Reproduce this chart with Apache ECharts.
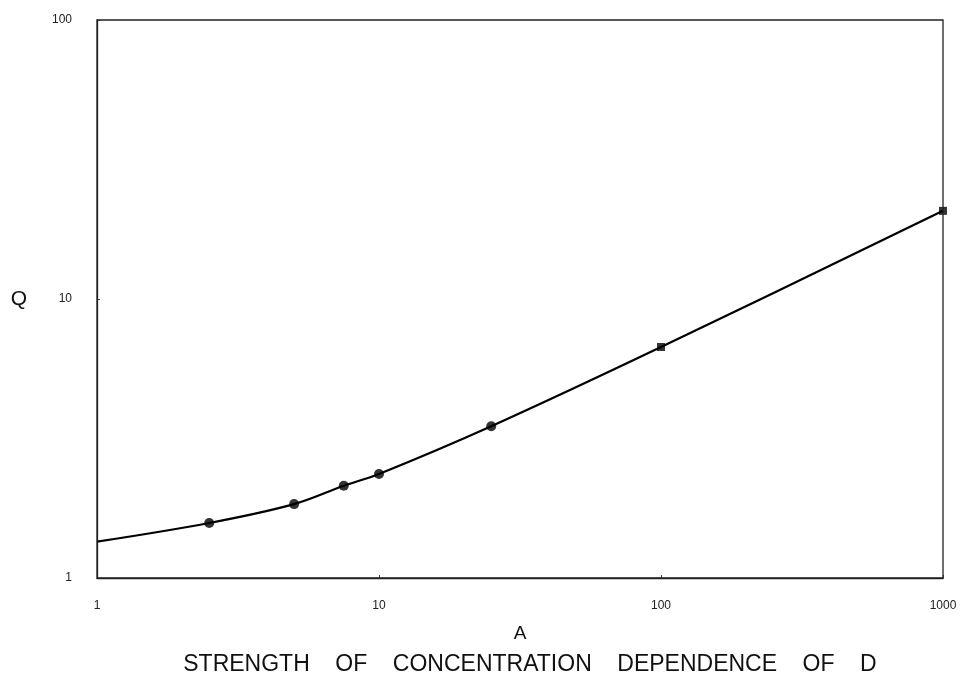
<!DOCTYPE html>
<html>
<head>
<meta charset="utf-8">
<script src="https://cdn.jsdelivr.net/npm/echarts@6/dist/echarts.min.js"></script>
<style>html,body{margin:0;padding:0;background:#fff}#c{width:962px;height:677px}</style>
</head>
<body>
<div id="c"></div>
<script>
const curveA = [1, 2.5, 5, 7.5, 10, 25, 100, 1000];
const curveQ = [1.35, 1.575, 1.84, 2.14, 2.36, 3.5, 6.73, 20.7];
const circleA = [2.5, 5, 7.5, 10, 25];
const circleQ = [1.575, 1.84, 2.14, 2.36, 3.5];
const squareA = [100, 1000];
const squareQ = [6.73, 20.7];
const xTicks = ['1', '10', '100', '1000'];
const yTicks = ['1', '10', '100'];
const xName = 'A';
const yName = 'Q';
const caption = 'STRENGTH    OF    CONCENTRATION    DEPENDENCE    OF    D';

const zip = (a, b) => a.map((v, i) => [v, b[i]]);
const font = 'Liberation Sans, Arial, sans-serif';
const chart = echarts.init(document.getElementById('c'));
chart.setOption({
  animation: false,
  backgroundColor: '#fff',
  grid: { left: 97, right: 19, top: 20, bottom: 99 },
  xAxis: {
    type: 'log', logBase: 10, min: 1, max: 1000,
    name: xName, nameLocation: 'middle', nameGap: 46,
    nameTextStyle: { fontFamily: font, fontSize: 19, color: '#111' },
    axisLine: { lineStyle: { color: '#222', width: 1.3 } },
    axisTick: { inside: true, length: 3, lineStyle: { color: '#444' } },
    minorTick: { show: false },
    splitLine: { show: false },
    axisLabel: { fontFamily: font, fontSize: 12, color: '#222', margin: 22,
      formatter: (v) => xTicks[Math.round(Math.log10(v))] }
  },
  yAxis: {
    type: 'log', logBase: 10, min: 1, max: 100,
    name: yName, nameLocation: 'middle', nameGap: 70, nameRotate: 0,
    nameTextStyle: { fontFamily: font, fontSize: 21, color: '#111' },
    axisLine: { lineStyle: { color: '#222', width: 1.3 } },
    axisTick: { inside: true, length: 3, lineStyle: { color: '#444' } },
    splitLine: { show: false },
    axisLabel: { fontFamily: font, fontSize: 12, color: '#222', margin: 25,
      formatter: (v) => yTicks[Math.round(Math.log10(v))] }
  },
  graphic: [
    { type: 'rect', shape: { x: 97, y: 20, width: 846, height: 558 }, style: { fill: 'none', stroke: '#222', lineWidth: 1.3 }, silent: true, z: 10 },
    { type: 'text', x: 530, y: 665, style: { text: caption, fontFamily: font, fontSize: 23, fill: '#111', x: 0, y: 0, textAlign: 'center', textVerticalAlign: 'middle' }, z: 10 }
  ],
  series: [
    { type: 'line', data: zip(curveA, curveQ), smooth: 0.35, showSymbol: false,
      lineStyle: { color: '#000', width: 2.2 } },
    { type: 'scatter', data: zip(circleA, circleQ), symbol: 'circle', symbolSize: 10,
      itemStyle: { color: '#000' } },
    { type: 'scatter', data: zip(squareA, squareQ), symbol: 'rect', symbolSize: 8,
      itemStyle: { color: '#000' } }
  ]
});
</script>
</body>
</html>
